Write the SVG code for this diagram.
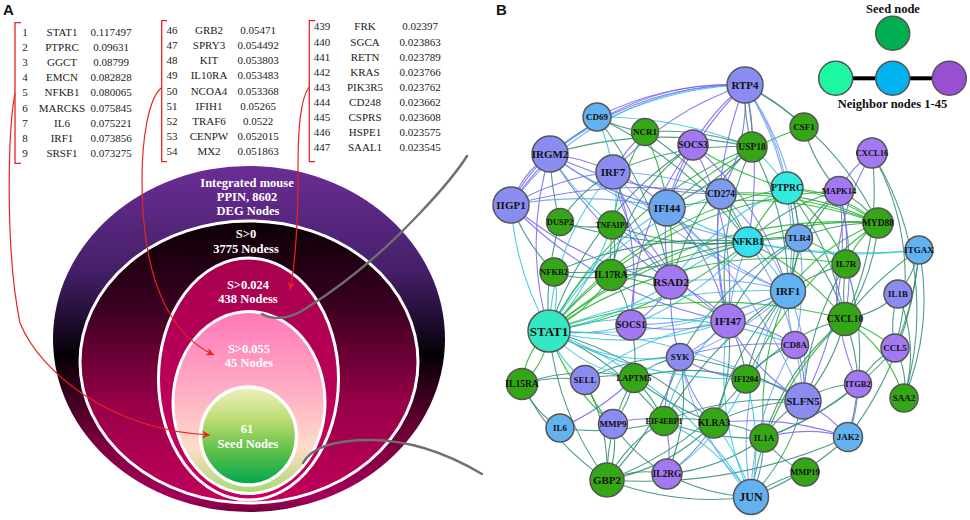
<svg xmlns="http://www.w3.org/2000/svg" width="970" height="520" viewBox="0 0 970 520">
<defs>
<style>
.tb{font-family:"Liberation Serif",serif;font-size:11px;fill:#1a1a1a;text-anchor:middle}
.br{fill:none;stroke:#e8231f;stroke-width:1.3}
.rl{fill:none;stroke:#e8231f;stroke-width:1.2}
.gl{fill:none;stroke:#6f6f6f;stroke-width:2.4;stroke-linecap:round}
.ew{font-family:"Liberation Serif",serif;font-weight:bold;font-size:12.5px;fill:#fff;text-anchor:middle}
.pl{font-family:"Liberation Sans",sans-serif;font-weight:bold;font-size:15px;fill:#111}
.lg{font-family:"Liberation Serif",serif;font-weight:bold;font-size:12.5px;fill:#111;text-anchor:middle}
.nd circle{stroke:#555;stroke-width:1.5}
.nd text{font-family:"Liberation Serif",serif;font-weight:bold;fill:#111;text-anchor:middle;font-size:9px}
.nd .m{font-size:9.5px}.nd .l{font-size:11px}
.G{fill:#35a716}.P{fill:#8a8cf2}.L{fill:#62b2f2}.U{fill:#a279f2}.C{fill:#30ece0}
#edges path{fill:none;stroke-width:1.1;opacity:.85}
#edges .v{stroke:#7566ee}#edges .b{stroke:#6d9ff3}#edges .c{stroke:#33c3d9}#edges .t{stroke:#2f8c70}#edges .g{stroke:#22b02a}
</style>
<marker id="ra" markerWidth="9" markerHeight="9" refX="8" refY="4" orient="auto" markerUnits="userSpaceOnUse">
<path d="M0,0 L8,4 L0,8 L2.5,4z" fill="#e8231f"/>
</marker>
<linearGradient id="g1" x1="0" y1="0" x2="0" y2="1">
<stop offset="0" stop-color="#6b2d94"/><stop offset="0.3" stop-color="#45206a"/><stop offset="0.55" stop-color="#050005"/><stop offset="0.8" stop-color="#7a003e"/><stop offset="0.96" stop-color="#a4005a"/><stop offset="1" stop-color="#70003c"/>
</linearGradient>
<linearGradient id="g2" x1="0" y1="0" x2="0" y2="1">
<stop offset="0" stop-color="#0a0006"/><stop offset="0.3" stop-color="#3a0020"/><stop offset="0.65" stop-color="#980048"/><stop offset="1" stop-color="#c2005c"/>
</linearGradient>
<linearGradient id="g3" x1="0" y1="0" x2="0" y2="1">
<stop offset="0" stop-color="#a8004f"/><stop offset="1" stop-color="#c8005f"/>
</linearGradient>
<linearGradient id="g4" x1="0" y1="0" x2="0" y2="1">
<stop offset="0" stop-color="#ff78b8"/><stop offset="0.4" stop-color="#ffa8c4"/><stop offset="0.75" stop-color="#ffdcc8"/><stop offset="1" stop-color="#a8d870"/>
</linearGradient>
<linearGradient id="g5" x1="0" y1="0" x2="0" y2="1">
<stop offset="0" stop-color="#f2f0c0"/><stop offset="0.35" stop-color="#b8dc70"/><stop offset="0.65" stop-color="#5ec048"/><stop offset="1" stop-color="#00a650"/>
</linearGradient>
</defs>
<rect width="970" height="520" fill="#fff"/>

<g id="panelA">
<text class="pl" x="3" y="15">A</text>
<g id="ellipses">
<ellipse cx="249" cy="339" rx="196" ry="173" fill="url(#g1)"/>
<ellipse cx="249" cy="362" rx="169" ry="141" fill="url(#g2)" stroke="#fff" stroke-width="3"/>
<ellipse cx="248.5" cy="379" rx="90" ry="121" fill="url(#g3)" stroke="#fff" stroke-width="3"/>
<ellipse cx="249" cy="402.5" rx="76" ry="91" fill="url(#g4)" stroke="#fff" stroke-width="3"/>
<ellipse cx="248.5" cy="436" rx="48" ry="49" fill="url(#g5)" stroke="#fff" stroke-width="3.5"/>
<text class="ew" x="247" y="187">Integrated mouse</text>
<text class="ew" x="247" y="201">PPIN, 8602</text>
<text class="ew" x="248" y="215">DEG Nodes</text>
<text class="ew" x="246" y="238">S&gt;0</text>
<text class="ew" x="246" y="253">3775 Nodess</text>
<text class="ew" x="248" y="289">S&gt;0.024</text>
<text class="ew" x="248" y="303">438 Nodess</text>
<text class="ew" x="249" y="353" fill="#ffeef4">S&gt;0.055</text>
<text class="ew" x="249" y="367" fill="#ffeef4">45 Nodes</text>
<text class="ew" x="247" y="433">61</text>
<text class="ew" x="248" y="448">Seed Nodes</text>
</g>
<g id="table1">
<path class="br" d="M21,22.7 H15 V163.3 H21"/>
<text class="tb" y="36"><tspan x="25">1</tspan><tspan x="62">STAT1</tspan><tspan x="111">0.117497</tspan></text>
<text class="tb" y="51.1"><tspan x="25">2</tspan><tspan x="62">PTPRC</tspan><tspan x="111">0.09631</tspan></text>
<text class="tb" y="66.2"><tspan x="25">3</tspan><tspan x="62">GGCT</tspan><tspan x="111">0.08799</tspan></text>
<text class="tb" y="81.3"><tspan x="25">4</tspan><tspan x="62">EMCN</tspan><tspan x="111">0.082828</tspan></text>
<text class="tb" y="96.4"><tspan x="25">5</tspan><tspan x="62">NFKB1</tspan><tspan x="111">0.080065</tspan></text>
<text class="tb" y="111.5"><tspan x="25">6</tspan><tspan x="62">MARCKS</tspan><tspan x="111">0.075845</tspan></text>
<text class="tb" y="126.6"><tspan x="25">7</tspan><tspan x="62">IL6</tspan><tspan x="111">0.075221</tspan></text>
<text class="tb" y="141.7"><tspan x="25">8</tspan><tspan x="62">IRF1</tspan><tspan x="111">0.073856</tspan></text>
<text class="tb" y="156.8"><tspan x="25">9</tspan><tspan x="62">SRSF1</tspan><tspan x="111">0.073275</tspan></text>
</g>
<g id="table2">
<path class="br" d="M167,20.7 H161.7 V161.7 H167"/>
<text class="tb" y="33.7"><tspan x="172">46</tspan><tspan x="209">GRB2</tspan><tspan x="258">0.05471</tspan></text>
<text class="tb" y="48.9"><tspan x="172">47</tspan><tspan x="209">SPRY3</tspan><tspan x="258">0.054492</tspan></text>
<text class="tb" y="64.1"><tspan x="172">48</tspan><tspan x="209">KIT</tspan><tspan x="258">0.053803</tspan></text>
<text class="tb" y="79.3"><tspan x="172">49</tspan><tspan x="209">IL10RA</tspan><tspan x="258">0.053483</tspan></text>
<text class="tb" y="94.5"><tspan x="172">50</tspan><tspan x="209">NCOA4</tspan><tspan x="258">0.053368</tspan></text>
<text class="tb" y="109.7"><tspan x="172">51</tspan><tspan x="209">IFIH1</tspan><tspan x="258">0.05265</tspan></text>
<text class="tb" y="124.9"><tspan x="172">52</tspan><tspan x="209">TRAF6</tspan><tspan x="258">0.0522</tspan></text>
<text class="tb" y="140.1"><tspan x="172">53</tspan><tspan x="209">CENPW</tspan><tspan x="258">0.052015</tspan></text>
<text class="tb" y="155.3"><tspan x="172">54</tspan><tspan x="209">MX2</tspan><tspan x="258">0.051863</tspan></text>
</g>
<g id="table3">
<path class="br" d="M315,20.7 H309.3 V161.7 H315"/>
<text class="tb" y="30.4"><tspan x="322">439</tspan><tspan x="365">FRK</tspan><tspan x="420">0.02397</tspan></text>
<text class="tb" y="45.5"><tspan x="322">440</tspan><tspan x="365">SGCA</tspan><tspan x="420">0.023863</tspan></text>
<text class="tb" y="60.6"><tspan x="322">441</tspan><tspan x="365">RETN</tspan><tspan x="420">0.023789</tspan></text>
<text class="tb" y="75.7"><tspan x="322">442</tspan><tspan x="365">KRAS</tspan><tspan x="420">0.023766</tspan></text>
<text class="tb" y="90.8"><tspan x="322">443</tspan><tspan x="365">PIK3R5</tspan><tspan x="420">0.023762</tspan></text>
<text class="tb" y="105.9"><tspan x="322">444</tspan><tspan x="365">CD248</tspan><tspan x="420">0.023662</tspan></text>
<text class="tb" y="121"><tspan x="322">445</tspan><tspan x="365">CSPRS</tspan><tspan x="420">0.023608</tspan></text>
<text class="tb" y="136.1"><tspan x="322">446</tspan><tspan x="365">HSPE1</tspan><tspan x="420">0.023575</tspan></text>
<text class="tb" y="151.2"><tspan x="322">447</tspan><tspan x="365">SAAL1</tspan><tspan x="420">0.023545</tspan></text>
</g>
<g id="arrowsA">
<path class="rl" d="M15,93 C8,130 5,250 20,323 C40,372 110,430 210,435" marker-end="url(#ra)"/>
<path class="rl" d="M161,88 C148,100 142,140 142,180 C142,260 160,330 214,355" marker-end="url(#ra)"/>
<path class="rl" d="M309,87 C300,100 298,130 298,170 C298,220 296,260 290,290" marker-end="url(#ra)"/>
<path class="gl" d="M262,314 C268,318 285,322 305,309 C340,287 380,256 420,213 C440,192 455,175 467,156"/>
<path class="gl" d="M303,463 C310,450 330,440 370,440 C410,440 450,455 482,474"/>
</g>
</g>

<g id="panelB">
<text class="pl" x="496" y="15">B</text>
<g id="legend">
<text class="lg" x="893" y="13">Seed node</text>
<circle cx="892.7" cy="33.3" r="17" fill="#00b050" stroke="#555" stroke-width="1.5"/>
<line x1="853" y1="78.3" x2="875" y2="78.3" stroke="#000" stroke-width="4"/>
<line x1="910" y1="78.3" x2="932" y2="78.3" stroke="#000" stroke-width="4"/>
<circle cx="835.7" cy="78.3" r="17" fill="#1ef7a2" stroke="#555" stroke-width="1.5"/>
<circle cx="892.7" cy="78.3" r="17" fill="#00b2ee" stroke="#555" stroke-width="1.5"/>
<circle cx="949.3" cy="78.3" r="17" fill="#9a4fd2" stroke="#555" stroke-width="1.5"/>
<text class="lg" x="892.5" y="107.5">Neighbor nodes 1-45</text>
</g>
<g id="edges">
<path class="v" d="M511,205 A260,260 0 0 1 745,85"/>
<path class="b" d="M511,205 A285,285 0 0 1 745,85"/>
<path class="v" d="M550,154 A300,300 0 0 1 745,85"/>
<path class="c" d="M550,154 A340,340 0 0 1 745,85"/>
<path class="v" d="M597,117 A300,300 0 0 1 745,85"/>
<path class="c" d="M597,117 A400,400 0 0 1 752,147"/>
<path class="t" d="M550,154 A400,400 0 0 1 752,147"/>
<path class="v" d="M550,154 A400,400 0 0 0 721,194"/>
<path class="v" d="M550,154 A300,300 0 0 0 667,208"/>
<path class="v" d="M550,154 A200,200 0 0 1 613,172"/>
<path class="v" d="M550,154 A150,150 0 0 0 511,205"/>
<path class="v" d="M550,154 A100,100 0 0 0 511,205"/>
<path class="v" d="M550,154 A300,300 0 0 0 549,331"/>
<path class="b" d="M550,154 A500,500 0 0 0 748,242"/>
<path class="v" d="M550,154 A400,400 0 0 0 671,282"/>
<path class="c" d="M550,154 A300,300 0 0 0 612,225"/>
<path class="t" d="M550,154 A300,300 0 0 0 560,222"/>
<path class="v" d="M511,205 A250,250 0 0 1 613,172"/>
<path class="b" d="M511,205 A400,400 0 0 1 667,208"/>
<path class="v" d="M511,205 A350,350 0 0 0 671,282"/>
<path class="v" d="M511,205 A400,400 0 0 0 728,321"/>
<path class="t" d="M511,205 A200,200 0 0 0 554,272"/>
<path class="c" d="M511,205 A300,300 0 0 0 549,331"/>
<path class="v" d="M511,205 A500,500 0 0 1 721,194"/>
<path class="v" d="M613,172 A200,200 0 0 1 667,208"/>
<path class="v" d="M613,172 A200,200 0 0 0 671,282"/>
<path class="v" d="M613,172 A300,300 0 0 0 728,321"/>
<path class="b" d="M613,172 A300,300 0 0 1 721,194"/>
<path class="v" d="M613,172 A300,300 0 0 1 745,85"/>
<path class="v" d="M613,172 A150,150 0 0 1 645,132"/>
<path class="c" d="M613,172 A250,250 0 0 0 549,331"/>
<path class="v" d="M613,172 A300,300 0 0 1 631,325"/>
<path class="b" d="M613,172 A400,400 0 0 0 788,291"/>
<path class="t" d="M613,172 A300,300 0 0 1 752,147"/>
<path class="v" d="M667,208 A300,300 0 0 1 745,85"/>
<path class="v" d="M667,208 A200,200 0 0 0 671,282"/>
<path class="v" d="M667,208 A250,250 0 0 1 728,321"/>
<path class="c" d="M667,208 A300,300 0 0 0 748,242"/>
<path class="b" d="M667,208 A300,300 0 0 0 788,291"/>
<path class="v" d="M667,208 A200,200 0 0 1 693,145"/>
<path class="t" d="M667,208 A300,300 0 0 0 752,147"/>
<path class="g" d="M667,208 A400,400 0 0 1 804,127"/>
<path class="c" d="M667,208 A300,300 0 0 0 549,331"/>
<path class="b" d="M667,208 A500,500 0 0 1 803,401"/>
<path class="v" d="M721,194 A200,200 0 0 0 745,85"/>
<path class="c" d="M721,194 A300,300 0 0 0 549,331"/>
<path class="b" d="M721,194 A250,250 0 0 1 788,291"/>
<path class="t" d="M721,194 A200,200 0 0 1 748,242"/>
<path class="g" d="M721,194 A400,400 0 0 1 878,223"/>
<path class="v" d="M721,194 A300,300 0 0 0 728,321"/>
<path class="t" d="M745,85 A200,200 0 0 1 752,147"/>
<path class="t" d="M745,85 A200,200 0 0 0 752,147"/>
<path class="b" d="M745,85 A250,250 0 0 1 787,188"/>
<path class="b" d="M745,85 A300,300 0 0 1 788,291"/>
<path class="v" d="M745,85 A200,200 0 0 0 693,145"/>
<path class="t" d="M745,85 A200,200 0 0 1 804,127"/>
<path class="v" d="M745,85 A400,400 0 0 1 748,242"/>
<path class="v" d="M745,85 A400,400 0 0 0 728,321"/>
<path class="t" d="M745,85 A300,300 0 0 1 878,223"/>
<path class="b" d="M745,85 A300,300 0 0 1 799,238"/>
<path class="g" d="M752,147 A400,400 0 0 0 549,331"/>
<path class="t" d="M752,147 A300,300 0 0 1 788,291"/>
<path class="c" d="M752,147 A200,200 0 0 1 787,188"/>
<path class="t" d="M752,147 A300,300 0 0 0 728,321"/>
<path class="t" d="M752,147 A300,300 0 0 0 671,282"/>
<path class="t" d="M752,147 A250,250 0 0 0 645,132"/>
<path class="g" d="M645,132 A250,250 0 0 0 611,275"/>
<path class="t" d="M645,132 A150,150 0 0 1 597,117"/>
<path class="g" d="M645,132 A300,300 0 0 1 671,282"/>
<path class="t" d="M645,132 A300,300 0 0 1 748,242"/>
<path class="c" d="M597,117 A200,200 0 0 1 613,172"/>
<path class="t" d="M597,117 A400,400 0 0 1 671,282"/>
<path class="t" d="M597,117 A400,400 0 0 1 748,242"/>
<path class="t" d="M693,145 A350,350 0 0 0 549,331"/>
<path class="v" d="M693,145 A300,300 0 0 1 788,291"/>
<path class="v" d="M693,145 A300,300 0 0 0 631,325"/>
<path class="g" d="M693,145 A300,300 0 0 0 787,188"/>
<path class="v" d="M693,145 A300,300 0 0 1 728,321"/>
<path class="t" d="M693,145 A200,200 0 0 0 611,275"/>
<path class="g" d="M787,188 A200,200 0 0 1 878,223"/>
<path class="g" d="M787,188 A150,150 0 0 1 878,223"/>
<path class="g" d="M787,188 A400,400 0 0 0 549,331"/>
<path class="g" d="M787,188 A200,200 0 0 0 748,242"/>
<path class="t" d="M787,188 A200,200 0 0 1 788,291"/>
<path class="t" d="M787,188 A100,100 0 0 1 799,238"/>
<path class="t" d="M787,188 A300,300 0 0 1 845,319"/>
<path class="g" d="M787,188 A200,200 0 0 1 846,264"/>
<path class="c" d="M787,188 A300,300 0 0 0 671,282"/>
<path class="t" d="M839,191 A100,100 0 0 1 878,223"/>
<path class="t" d="M839,191 A150,150 0 0 0 799,238"/>
<path class="t" d="M839,191 A200,200 0 0 0 748,242"/>
<path class="v" d="M839,191 A200,200 0 0 1 846,264"/>
<path class="v" d="M839,191 A300,300 0 0 1 845,319"/>
<path class="t" d="M839,191 A150,150 0 0 1 804,127"/>
<path class="g" d="M839,191 A400,400 0 0 0 549,331"/>
<path class="t" d="M839,191 A200,200 0 0 0 788,291"/>
<path class="v" d="M839,191 A350,350 0 0 1 803,401"/>
<path class="g" d="M878,223 A300,300 0 0 0 748,242"/>
<path class="g" d="M878,223 A100,100 0 0 0 846,264"/>
<path class="t" d="M878,223 A200,200 0 0 1 845,319"/>
<path class="g" d="M878,223 A450,450 0 0 0 549,331"/>
<path class="t" d="M878,223 A200,200 0 0 0 799,238"/>
<path class="g" d="M878,223 A200,200 0 0 0 788,291"/>
<path class="g" d="M878,223 A300,300 0 0 0 721,194"/>
<path class="g" d="M878,223 A400,400 0 0 0 667,208"/>
<path class="c" d="M748,242 A600,600 0 0 0 919,250"/>
<path class="c" d="M748,242 A500,500 0 0 0 919,250"/>
<path class="g" d="M748,242 A400,400 0 0 1 549,331"/>
<path class="t" d="M748,242 A150,150 0 0 1 799,238"/>
<path class="c" d="M748,242 A200,200 0 0 1 788,291"/>
<path class="c" d="M748,242 A200,200 0 0 0 671,282"/>
<path class="t" d="M748,242 A300,300 0 0 0 611,275"/>
<path class="t" d="M748,242 A500,500 0 0 1 554,272"/>
<path class="b" d="M748,242 A300,300 0 0 0 728,321"/>
<path class="g" d="M748,242 A300,300 0 0 1 845,319"/>
<path class="b" d="M748,242 A300,300 0 0 1 803,401"/>
<path class="c" d="M748,242 A300,300 0 0 1 631,325"/>
<path class="t" d="M799,238 A200,200 0 0 1 788,291"/>
<path class="t" d="M799,238 A200,200 0 0 1 845,319"/>
<path class="g" d="M799,238 A150,150 0 0 1 846,264"/>
<path class="g" d="M799,238 A400,400 0 0 0 549,331"/>
<path class="t" d="M799,238 A300,300 0 0 0 680,357"/>
<path class="b" d="M799,238 A300,300 0 0 1 795,345"/>
<path class="t" d="M799,238 A200,200 0 0 0 728,321"/>
<path class="t" d="M919,250 A100,100 0 0 1 898,294"/>
<path class="t" d="M919,250 A250,250 0 0 1 904,398"/>
<path class="t" d="M919,250 A300,300 0 0 1 895,348"/>
<path class="t" d="M919,250 A300,300 0 0 0 845,319"/>
<path class="t" d="M919,250 A350,350 0 0 1 848,437"/>
<path class="t" d="M846,264 A200,200 0 0 0 845,319"/>
<path class="g" d="M846,264 A400,400 0 0 0 549,331"/>
<path class="t" d="M846,264 A200,200 0 0 0 788,291"/>
<path class="t" d="M846,264 A300,300 0 0 1 848,437"/>
<path class="t" d="M846,264 A300,300 0 0 0 803,401"/>
<path class="t" d="M898,294 A100,100 0 0 0 895,348"/>
<path class="t" d="M898,294 A100,100 0 0 1 845,319"/>
<path class="t" d="M898,294 A150,150 0 0 1 904,398"/>
<path class="c" d="M788,291 A500,500 0 0 1 549,331"/>
<path class="c" d="M788,291 A600,600 0 0 0 549,331"/>
<path class="b" d="M788,291 A200,200 0 0 1 728,321"/>
<path class="b" d="M788,291 A200,200 0 0 1 803,401"/>
<path class="b" d="M788,291 A150,150 0 0 0 795,345"/>
<path class="t" d="M788,291 A200,200 0 0 0 746,379"/>
<path class="b" d="M788,291 A300,300 0 0 0 751,497"/>
<path class="t" d="M788,291 A300,300 0 0 0 714,423"/>
<path class="b" d="M788,291 A300,300 0 0 0 671,282"/>
<path class="b" d="M788,291 A400,400 0 0 1 631,325"/>
<path class="g" d="M788,291 A300,300 0 0 0 764,438"/>
<path class="b" d="M788,291 A300,300 0 0 1 680,357"/>
<path class="t" d="M788,291 A400,400 0 0 0 664,421"/>
<path class="g" d="M845,319 A200,200 0 0 1 895,348"/>
<path class="t" d="M845,319 A200,200 0 0 1 803,401"/>
<path class="t" d="M845,319 A250,250 0 0 0 764,438"/>
<path class="t" d="M845,319 A200,200 0 0 1 858,384"/>
<path class="g" d="M845,319 A500,500 0 0 0 549,331"/>
<path class="t" d="M845,319 A200,200 0 0 0 746,379"/>
<path class="g" d="M845,319 A300,300 0 0 0 751,497"/>
<path class="g" d="M845,319 A150,150 0 0 1 904,398"/>
<path class="t" d="M872,153 A300,300 0 0 1 845,319"/>
<path class="v" d="M872,153 A250,250 0 0 0 858,384"/>
<path class="t" d="M872,153 A250,250 0 0 1 895,348"/>
<path class="t" d="M872,153 A300,300 0 0 1 904,398"/>
<path class="v" d="M872,153 A100,100 0 0 0 839,191"/>
<path class="t" d="M895,348 A80,80 0 0 1 904,398"/>
<path class="t" d="M895,348 A100,100 0 0 0 858,384"/>
<path class="t" d="M895,348 A300,300 0 0 1 764,438"/>
<path class="v" d="M795,345 A100,100 0 0 1 803,401"/>
<path class="v" d="M795,345 A150,150 0 0 0 728,321"/>
<path class="v" d="M795,345 A300,300 0 0 0 680,357"/>
<path class="b" d="M795,345 A300,300 0 0 0 751,497"/>
<path class="t" d="M795,345 A100,100 0 0 0 746,379"/>
<path class="c" d="M795,345 A400,400 0 0 0 549,331"/>
<path class="v" d="M858,384 A150,150 0 0 1 848,437"/>
<path class="t" d="M858,384 A100,100 0 0 0 803,401"/>
<path class="t" d="M858,384 A300,300 0 0 1 764,438"/>
<path class="v" d="M803,401 A150,150 0 0 1 848,437"/>
<path class="t" d="M803,401 A100,100 0 0 0 764,438"/>
<path class="v" d="M803,401 A200,200 0 0 1 728,321"/>
<path class="t" d="M803,401 A200,200 0 0 0 714,423"/>
<path class="b" d="M803,401 A100,100 0 0 0 746,379"/>
<path class="b" d="M803,401 A500,500 0 0 0 549,331"/>
<path class="t" d="M803,401 A300,300 0 0 0 664,421"/>
<path class="t" d="M803,401 A200,200 0 0 1 751,497"/>
<path class="t" d="M803,401 A300,300 0 0 0 680,357"/>
<path class="v" d="M848,437 A150,150 0 0 0 764,438"/>
<path class="t" d="M848,437 A300,300 0 0 1 751,497"/>
<path class="t" d="M848,437 A500,500 0 0 1 607,480"/>
<path class="v" d="M848,437 A300,300 0 0 0 714,423"/>
<path class="t" d="M764,438 A100,100 0 0 0 805,472"/>
<path class="v" d="M764,438 A150,150 0 0 1 751,497"/>
<path class="t" d="M764,438 A100,100 0 0 0 714,423"/>
<path class="t" d="M764,438 A250,250 0 0 1 664,421"/>
<path class="t" d="M764,438 A200,200 0 0 1 667,474"/>
<path class="t" d="M805,472 A150,150 0 0 0 751,497"/>
<path class="c" d="M751,497 A200,200 0 0 0 714,423"/>
<path class="c" d="M751,497 A250,250 0 0 0 746,379"/>
<path class="c" d="M751,497 A200,200 0 0 0 664,421"/>
<path class="t" d="M751,497 A200,200 0 0 1 667,474"/>
<path class="t" d="M751,497 A300,300 0 0 1 607,480"/>
<path class="c" d="M751,497 A400,400 0 0 0 549,331"/>
<path class="c" d="M751,497 A300,300 0 0 1 728,321"/>
<path class="b" d="M751,497 A300,300 0 0 1 680,357"/>
<path class="t" d="M714,423 A100,100 0 0 0 664,421"/>
<path class="t" d="M714,423 A200,200 0 0 1 607,480"/>
<path class="v" d="M714,423 A150,150 0 0 1 680,357"/>
<path class="t" d="M714,423 A200,200 0 0 0 728,321"/>
<path class="v" d="M714,423 A150,150 0 0 1 667,474"/>
<path class="t" d="M714,423 A400,400 0 0 0 549,331"/>
<path class="t" d="M714,423 A300,300 0 0 1 634,378"/>
<path class="v" d="M664,421 A100,100 0 0 0 613,424"/>
<path class="t" d="M664,421 A150,150 0 0 0 607,480"/>
<path class="v" d="M664,421 A150,150 0 0 1 680,357"/>
<path class="t" d="M664,421 A150,150 0 0 0 634,378"/>
<path class="v" d="M664,421 A100,100 0 0 1 667,474"/>
<path class="t" d="M664,421 A250,250 0 0 1 560,428"/>
<path class="t" d="M664,421 A300,300 0 0 0 549,331"/>
<path class="c" d="M664,421 A200,200 0 0 1 728,321"/>
<path class="t" d="M667,474 A100,100 0 0 0 607,480"/>
<path class="t" d="M667,474 A200,200 0 0 0 680,357"/>
<path class="t" d="M667,474 A150,150 0 0 1 613,424"/>
<path class="c" d="M667,474 A200,200 0 0 0 746,379"/>
<path class="t" d="M607,480 A100,100 0 0 0 613,424"/>
<path class="t" d="M607,480 A200,200 0 0 1 634,378"/>
<path class="t" d="M607,480 A200,200 0 0 0 585,380"/>
<path class="t" d="M607,480 A300,300 0 0 0 746,379"/>
<path class="t" d="M607,480 A300,300 0 0 1 549,331"/>
<path class="t" d="M607,480 A300,300 0 0 0 680,357"/>
<path class="g" d="M613,424 A100,100 0 0 1 585,380"/>
<path class="t" d="M613,424 A100,100 0 0 0 634,378"/>
<path class="g" d="M613,424 A200,200 0 0 1 549,331"/>
<path class="t" d="M560,428 A100,100 0 0 1 522,384"/>
<path class="v" d="M560,428 A250,250 0 0 0 634,378"/>
<path class="g" d="M522,384 A80,80 0 0 0 549,331"/>
<path class="g" d="M522,384 A80,80 0 0 1 549,331"/>
<path class="t" d="M522,384 A150,150 0 0 1 585,380"/>
<path class="t" d="M522,384 A250,250 0 0 0 607,480"/>
<path class="t" d="M522,384 A200,200 0 0 1 634,378"/>
<path class="c" d="M585,380 A100,100 0 0 1 549,331"/>
<path class="t" d="M585,380 A100,100 0 0 1 634,378"/>
<path class="t" d="M585,380 A200,200 0 0 1 680,357"/>
<path class="c" d="M585,380 A300,300 0 0 1 728,321"/>
<path class="t" d="M634,378 A100,100 0 0 1 680,357"/>
<path class="c" d="M634,378 A150,150 0 0 1 549,331"/>
<path class="t" d="M634,378 A200,200 0 0 1 746,379"/>
<path class="c" d="M680,357 A200,200 0 0 1 549,331"/>
<path class="v" d="M680,357 A150,150 0 0 0 728,321"/>
<path class="v" d="M680,357 A200,200 0 0 1 671,282"/>
<path class="v" d="M680,357 A150,150 0 0 0 746,379"/>
<path class="c" d="M746,379 A400,400 0 0 1 549,331"/>
<path class="t" d="M746,379 A150,150 0 0 0 728,321"/>
<path class="g" d="M746,379 A400,400 0 0 1 878,223"/>
<path class="c" d="M728,321 A300,300 0 0 1 549,331"/>
<path class="v" d="M728,321 A150,150 0 0 0 671,282"/>
<path class="v" d="M728,321 A200,200 0 0 1 631,325"/>
<path class="g" d="M728,321 A300,300 0 0 0 611,275"/>
<path class="c" d="M671,282 A300,300 0 0 1 549,331"/>
<path class="v" d="M671,282 A100,100 0 0 1 631,325"/>
<path class="t" d="M671,282 A150,150 0 0 0 611,275"/>
<path class="v" d="M671,282 A150,150 0 0 0 612,225"/>
<path class="c" d="M631,325 A200,200 0 0 1 549,331"/>
<path class="t" d="M631,325 A100,100 0 0 0 611,275"/>
<path class="t" d="M631,325 A150,150 0 0 1 634,378"/>
<path class="c" d="M549,331 A100,100 0 0 0 554,272"/>
<path class="g" d="M549,331 A150,150 0 0 0 611,275"/>
<path class="c" d="M549,331 A300,300 0 0 0 612,225"/>
<path class="t" d="M549,331 A300,300 0 0 1 560,222"/>
<path class="t" d="M611,275 A100,100 0 0 1 554,272"/>
<path class="t" d="M611,275 A100,100 0 0 0 612,225"/>
<path class="t" d="M612,225 A100,100 0 0 1 560,222"/>
<path class="t" d="M612,225 A300,300 0 0 0 748,242"/>
<path class="c" d="M612,225 A100,100 0 0 0 613,172"/>
<path class="t" d="M560,222 A150,150 0 0 1 613,172"/>
<path class="t" d="M560,222 A500,500 0 0 0 748,242"/>
<path class="t" d="M554,272 A400,400 0 0 1 748,242"/>
</g>
<g class="nd">
<g id="RTP4"><circle class="P" cx="745" cy="85" r="18"/><text class="l" x="745" y="88.8">RTP4</text></g>
<g id="CD69"><circle class="L" cx="597" cy="117" r="14"/><text x="597" y="120.2">CD69</text></g>
<g id="NCR1"><circle class="G" cx="645" cy="132" r="13.5"/><text x="645" y="135.2">NCR1</text></g>
<g id="SOCS3"><circle class="U" cx="693" cy="145" r="15"/><text class="m" x="693" y="148.3">SOCS3</text></g>
<g id="USP18"><circle class="G" cx="752" cy="147" r="15"/><text class="m" x="752" y="150.3">USP18</text></g>
<g id="CSF1"><circle class="G" cx="804" cy="127" r="14"/><text x="804" y="130.2">CSF1</text></g>
<g id="CXCL16"><circle class="U" cx="872" cy="153" r="15"/><text x="872" y="156.2" style="font-size:8.5px">CXCL16</text></g>
<g id="IRGM2"><circle class="P" cx="550" cy="154" r="18"/><text class="l" x="550" y="157.8">IRGM2</text></g>
<g id="IRF7"><circle class="P" cx="613" cy="172" r="17"/><text class="l" x="613" y="175.8">IRF7</text></g>
<g id="IIGP1"><circle class="P" cx="511" cy="205" r="18"/><text class="l" x="511" y="208.8">IIGP1</text></g>
<g id="DUSP2"><circle class="G" cx="560" cy="222" r="13.5"/><text x="560" y="225.2" style="font-size:8.5px">DUSP2</text></g>
<g id="TNFAIP3"><circle class="G" cx="612" cy="225" r="14"/><text x="612" y="228" style="font-size:8px">TNFAIP3</text></g>
<g id="IFI44"><circle fill="#6ea6f0" cx="667" cy="208" r="18"/><text class="l" x="667" y="211.8">IFI44</text></g>
<g id="CD274"><circle fill="#7b9cf0" cx="721" cy="194" r="15"/><text class="m" x="721" y="197.3">CD274</text></g>
<g id="PTPRC"><circle class="C" cx="787" cy="188" r="16"/><text class="m" x="787" y="191.3">PTPRC</text></g>
<g id="MAPK14"><circle class="U" cx="839" cy="191" r="14.5"/><text x="839" y="194" style="font-size:8.5px">MAPK14</text></g>
<g id="MYD88"><circle class="G" cx="878" cy="223" r="15"/><text class="m" x="878" y="226.3">MYD88</text></g>
<g id="NFKB1"><circle fill="#35e0f0" cx="748" cy="242" r="15"/><text class="m" x="748" y="245.3">NFKB1</text></g>
<g id="TLR4"><circle fill="#6ea8f0" cx="799" cy="238" r="13.5"/><text x="799" y="241.2">TLR4</text></g>
<g id="ITGAX"><circle class="L" cx="919" cy="250" r="14"/><text x="919" y="253.2">ITGAX</text></g>
<g id="NFKB2"><circle class="G" cx="554" cy="272" r="14"/><text x="554" y="275.2" style="font-size:8.5px">NFKB2</text></g>
<g id="IL17RA"><circle class="G" cx="611" cy="275" r="15.5"/><text class="m" x="611" y="278.3">IL17RA</text></g>
<g id="RSAD2"><circle class="U" cx="671" cy="282" r="17"/><text class="l" x="671" y="285.8">RSAD2</text></g>
<g id="IL7R"><circle class="G" cx="846" cy="264" r="14"/><text x="846" y="267.2">IL7R</text></g>
<g id="IRF1"><circle class="L" cx="788" cy="291" r="17.5"/><text class="l" x="788" y="294.8">IRF1</text></g>
<g id="IL1B"><circle class="P" cx="898" cy="294" r="14"/><text x="898" y="297.2">IL1B</text></g>
<g id="STAT1"><circle fill="#35e8c4" cx="549" cy="331" r="21"/><text x="549" y="335.6" style="font-size:13px">STAT1</text></g>
<g id="SOCS1"><circle class="U" cx="631" cy="325" r="15"/><text class="m" x="631" y="328.3">SOCS1</text></g>
<g id="IFI47"><circle class="U" cx="728" cy="321" r="17"/><text class="l" x="728" y="324.8">IFI47</text></g>
<g id="CXCL10"><circle class="G" cx="845" cy="319" r="16.5"/><text class="m" x="845" y="322.3">CXCL10</text></g>
<g id="CD8A"><circle class="U" cx="795" cy="345" r="13.5"/><text x="795" y="348.2">CD8A</text></g>
<g id="CCL5"><circle class="U" cx="895" cy="348" r="14"/><text x="895" y="351.2">CCL5</text></g>
<g id="SYK"><circle class="P" cx="680" cy="357" r="13.5"/><text x="680" y="360.2">SYK</text></g>
<g id="IL15RA"><circle class="G" cx="522" cy="384" r="15.5"/><text class="m" x="522" y="387.3">IL15RA</text></g>
<g id="SELL"><circle class="P" cx="585" cy="380" r="14.5"/><text x="585" y="383.2">SELL</text></g>
<g id="LAPTM5"><circle class="G" cx="634" cy="378" r="14.5"/><text x="634" y="381" style="font-size:8.5px">LAPTM5</text></g>
<g id="IFI204"><circle class="G" cx="746" cy="379" r="14"/><text x="746" y="382.2" style="font-size:8.5px">IFI204</text></g>
<g id="ITGB2"><circle class="U" cx="858" cy="384" r="13.5"/><text x="858" y="387.2" style="font-size:8.5px">ITGB2</text></g>
<g id="SLFN5"><circle class="P" cx="803" cy="401" r="18"/><text class="l" x="803" y="404.8">SLFN5</text></g>
<g id="SAA2"><circle class="G" cx="904" cy="398" r="14"/><text x="904" y="401.2">SAA2</text></g>
<g id="IL6"><circle class="L" cx="560" cy="428" r="14"/><text x="560" y="431.2">IL6</text></g>
<g id="MMP9"><circle class="P" cx="613" cy="424" r="14.5"/><text x="613" y="427.2">MMP9</text></g>
<g id="EIF4EBP1"><circle class="G" cx="664" cy="421" r="14.5"/><text x="664" y="424" style="font-size:8px">EIF4EBP1</text></g>
<g id="KLRA3"><circle class="G" cx="714" cy="423" r="15"/><text class="m" x="714" y="426.3">KLRA3</text></g>
<g id="IL1A"><circle class="G" cx="764" cy="438" r="14"/><text x="764" y="441.2">IL1A</text></g>
<g id="JAK2"><circle class="L" cx="848" cy="437" r="14.5"/><text x="848" y="440.2">JAK2</text></g>
<g id="IL2RG"><circle class="U" cx="667" cy="474" r="15"/><text class="m" x="667" y="477.3">IL2RG</text></g>
<g id="GBP2"><circle class="G" cx="607" cy="480" r="17"/><text class="l" x="607" y="483.8">GBP2</text></g>
<g id="MMP19"><circle class="G" cx="805" cy="472" r="14"/><text x="805" y="475.2" style="font-size:8.5px">MMP19</text></g>
<g id="JUN"><circle class="L" cx="751" cy="497" r="17.5"/><text x="751" y="501" style="font-size:12px">JUN</text></g>
</g>
</g>
</svg>
